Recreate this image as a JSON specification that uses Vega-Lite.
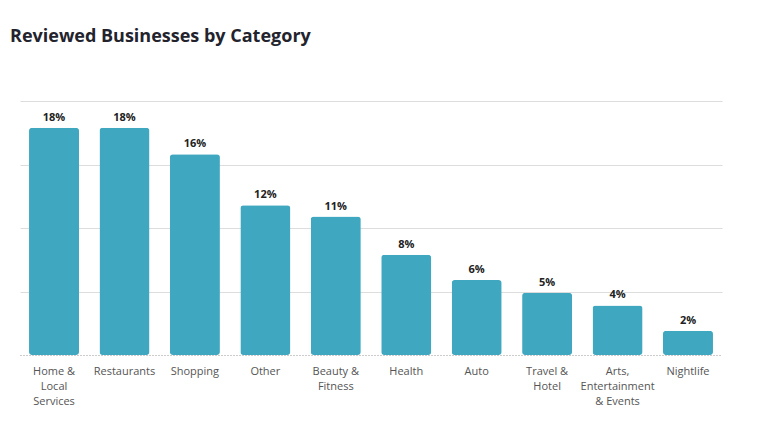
{
  "$schema": "https://vega.github.io/schema/vega-lite/v6.json",
  "width": 702,
  "height": 254,
  "padding": {"left": 10, "top": 28, "right": 10, "bottom": 5},
  "title": {
    "text": "Reviewed Businesses by Category",
    "anchor": "start",
    "frame": "group",
    "dx": -10,
    "offset": 55,
    "fontSize": 18,
    "fontWeight": "bold",
    "color": "#23232d",
    "font": "Open Sans"
  },
  "data": {
    "values": [
      {"category": "Home & Local Services", "share": 0.179},
      {"category": "Restaurants", "share": 0.179},
      {"category": "Shopping", "share": 0.158},
      {"category": "Other", "share": 0.118},
      {"category": "Beauty & Fitness", "share": 0.109},
      {"category": "Health", "share": 0.079},
      {"category": "Auto", "share": 0.059},
      {"category": "Travel & Hotel", "share": 0.049},
      {"category": "Arts, Entertainment & Events", "share": 0.039},
      {"category": "Nightlife", "share": 0.019}
    ]
  },
  "encoding": {
    "x": {
      "field": "category",
      "type": "nominal",
      "sort": null,
      "title": null,
      "scale": {"paddingInner": 0.29, "paddingOuter": 0.128},
      "axis": {
        "labelAngle": 0,
        "labelFont": "Open Sans",
        "labelFontSize": 11,
        "labelColor": "#555555",
        "labelLineHeight": 15,
        "labelPadding": 10,
        "labelBaseline": "top",
        "ticks": false,
        "domainColor": "#999999",
        "domainDash": [1, 2],
        "labelExpr": "{'Home & Local Services': ['Home &', 'Local', 'Services'], 'Beauty & Fitness': ['Beauty &', 'Fitness'], 'Travel & Hotel': ['Travel &', 'Hotel'], 'Arts, Entertainment & Events': ['Arts,', 'Entertainment', '& Events']}[datum.value] || datum.value"
      }
    },
    "y": {
      "field": "share",
      "type": "quantitative",
      "title": null,
      "scale": {"domain": [0, 0.2], "nice": false},
      "axis": {
        "values": [0.05, 0.1, 0.15, 0.2],
        "labels": false,
        "ticks": false,
        "domain": false,
        "grid": true,
        "gridColor": "#dddddd"
      }
    }
  },
  "layer": [
    {
      "mark": {"type": "bar", "color": "#3fa7c0", "cornerRadius": 3}
    },
    {
      "mark": {
        "type": "text",
        "baseline": "alphabetic",
        "dy": -7,
        "font": "Open Sans",
        "fontSize": 11,
        "fontWeight": "bold",
        "color": "#222222"
      },
      "encoding": {
        "text": {"field": "share", "type": "quantitative", "format": ".0%"}
      }
    }
  ],
  "config": {
    "view": {"stroke": null},
    "font": "Open Sans"
  }
}
